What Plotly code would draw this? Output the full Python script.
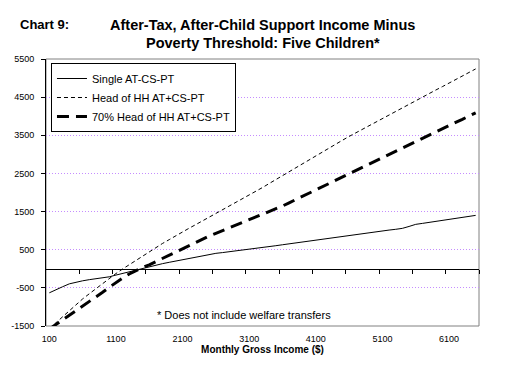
import plotly.graph_objects as go

income = list(range(100, 6600, 100))

single = [-630, -560, -470, -395, -350, -315, -285, -260, -235, -210,
          -165, -120, -75, -30, 15, 55, 95, 135, 170, 205,
          240, 275, 310, 345, 380, 405, 425, 445, 465, 485,
          505, 530, 555, 580, 605, 630, 655, 680, 705, 730,
          755, 780, 805, 830, 850, 875, 900, 920, 945, 970,
          990, 1015, 1035, 1060, 1110, 1165, 1190, 1215, 1240, 1265,
          1290, 1315, 1340, 1365, 1400]

head_hh = [-1570, -1410, -1250, -1090, -930, -790, -655, -520, -385, -250,
           -125, -5, 110, 225, 340, 450, 560, 665, 765, 870,
           970, 1065, 1160, 1255, 1355, 1450, 1550, 1650, 1750, 1845,
           1940, 2035, 2130, 2235, 2340, 2440, 2545, 2650, 2750, 2855,
           2960, 3060, 3165, 3265, 3370, 3470, 3565, 3660, 3750, 3845,
           3935, 4030, 4125, 4215, 4310, 4405, 4495, 4590, 4685, 4775,
           4870, 4960, 5055, 5150, 5240]

head_hh_70 = [-1580, -1460, -1340, -1220, -1105, -990, -870, -745, -615, -485,
              -355, -245, -135, -40, 35, 105, 190, 280, 365, 445,
              525, 610, 700, 785, 860, 930, 1000, 1070, 1140, 1210,
              1280, 1350, 1420, 1490, 1565, 1645, 1730, 1815, 1900, 1985,
              2075, 2160, 2245, 2330, 2415, 2500, 2585, 2670, 2755, 2840,
              2925, 3010, 3090, 3170, 3255, 3340, 3420, 3500, 3585, 3670,
              3755, 3840, 3920, 4005, 4090]

series_names = ["Single AT-CS-PT", "Head of HH AT+CS-PT", "70% Head of HH AT+CS-PT"]
x_tick_labels = [100, 1100, 2100, 3100, 4100, 5100, 6100]
x_minor_ticks = list(range(550, 6600, 500))
y_tick_labels = [-1500, -500, 500, 1500, 2500, 3500, 4500, 5500]

Y_MIN, Y_MAX = -1500, 5500
X_MIN, X_MAX = 50, 6550
FONT = "Liberation Sans, Arial, sans-serif"

fig = go.Figure()
fig.add_trace(go.Scatter(x=income, y=single, mode="lines", name=series_names[0],
                         line=dict(color="black", width=1)))
fig.add_trace(go.Scatter(x=income, y=head_hh, mode="lines", name=series_names[1],
                         line=dict(color="black", width=1, dash="4px,3px")))
fig.add_trace(go.Scatter(x=income, y=head_hh_70, mode="lines", name=series_names[2],
                         line=dict(color="black", width=3, dash="12px,7px")))
# invisible trace for the zero-crossing axis
fig.add_trace(go.Scatter(x=[X_MIN, X_MAX], y=[0, 0], xaxis="x2", mode="lines",
                         line=dict(width=0), showlegend=False, hoverinfo="skip"))

zero_pos = (0 - Y_MIN) / (Y_MAX - Y_MIN)

fig.update_layout(
    width=522, height=370,
    margin=dict(l=46, r=43, t=59, b=44),
    paper_bgcolor="white", plot_bgcolor="white",
    font=dict(family=FONT, size=9, color="black"),
    showlegend=True,
    legend=dict(x=0.0115, y=0.985, xanchor="left", yanchor="top",
                bgcolor="white", bordercolor="black", borderwidth=1,
                font=dict(size=11, family=FONT), tracegroupgap=0),
    xaxis=dict(range=[X_MIN, X_MAX], tickvals=x_tick_labels,
               ticktext=[str(v) for v in x_tick_labels],
               showgrid=False, zeroline=False, showline=False, ticks="",
               ticklabelstandoff=6,
               title=dict(text="<b>Monthly Gross Income ($)</b>",
                          font=dict(size=10, family=FONT), standoff=2)),
    xaxis2=dict(range=[X_MIN, X_MAX], overlaying="x", anchor="free",
                position=zero_pos, side="bottom",
                tickvals=x_minor_ticks, showticklabels=False,
                ticks="outside", ticklen=4, tickcolor="black", tickwidth=1,
                showline=True, linecolor="black", linewidth=1,
                showgrid=False, zeroline=False),
    yaxis=dict(range=[Y_MIN, Y_MAX], tickvals=y_tick_labels,
               ticktext=[str(v) for v in y_tick_labels],
               showgrid=True, gridcolor="#c58cff", gridwidth=1, griddash="1px,2px",
               zeroline=False, showline=True, linecolor="black", linewidth=1,
               ticks="outside", ticklen=4, tickcolor="black",
               ticklabelstandoff=5),
)

fig.add_shape(type="rect", xref="x domain", yref="y domain", x0=0, x1=1, y0=0, y1=1,
              line=dict(color="#808080", width=1), layer="below")

plot_w = 522 - 46 - 43
plot_h = 370 - 59 - 44

def px_x(px):
    return (px - 46) / plot_w

def px_y(py):
    return (370 - 44 - py) / plot_h

fig.add_annotation(text="<b>Chart 9:</b>", xref="paper", yref="paper",
                   x=px_x(18), y=px_y(25), xanchor="left", yanchor="middle",
                   showarrow=False, font=dict(size=13, family=FONT))
fig.add_annotation(text="<b>After-Tax, After-Child Support Income Minus</b>", xref="paper", yref="paper",
                   x=px_x(262), y=px_y(25), xanchor="center", yanchor="middle",
                   showarrow=False, font=dict(size=14.5, family=FONT))
fig.add_annotation(text="<b>Poverty Threshold: Five Children*</b>", xref="paper", yref="paper",
                   x=px_x(263), y=px_y(43), xanchor="center", yanchor="middle",
                   showarrow=False, font=dict(size=14.5, family=FONT))
fig.add_annotation(text="* Does not include welfare transfers", xref="paper", yref="paper",
                   x=px_x(155), y=px_y(315), xanchor="left", yanchor="middle",
                   showarrow=False, font=dict(size=11, family=FONT))

fig.write_html("out.html", config={"displayModeBar": False},
               post_script="document.body.style.margin='0';")
